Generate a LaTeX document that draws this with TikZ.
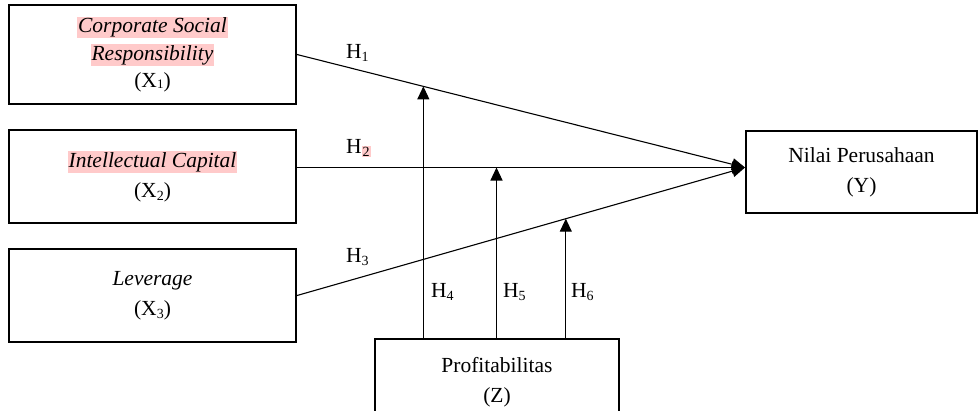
\documentclass[tikz,border=0pt]{standalone}
\usepackage{fontspec}
\setmainfont{Liberation Serif}
\usepackage{xcolor}
\usetikzlibrary{arrows.meta,calc}
\definecolor{hl}{RGB}{255,202,202}
\newcommand{\hlbox}[1]{{\setlength{\fboxsep}{1pt}\colorbox{hl}{#1}}}
\newcommand{\lowsub}[1]{\raisebox{-0.35ex}{\fontsize{14}{14}\selectfont #1}}
\tikzset{
  varbox/.style={draw,line width=2pt,align=center,inner sep=0pt,
    font=\fontsize{21.5}{30}\selectfont},
  hyp/.style={anchor=base west,inner sep=0pt,font=\fontsize{21.5}{26}\selectfont},
  link/.style={line width=1.1pt},
  arr/.style={link,-{Triangle[length=13pt,width=12pt]}}
}

\begin{document}
\begin{tikzpicture}[x=1pt,y=-1pt]
  \useasboundingbox (0,0) rectangle (979,410);
  \node[varbox,minimum width=287pt,minimum height=99pt,
    font=\fontsize{21.5}{27.5}\selectfont] (x1) at (152.5,54.5)
    {\hlbox{\itshape Corporate Social}\\\hlbox{\itshape Responsibility}\\(X\raisebox{-0.1ex}{\fontsize{13}{13}\selectfont 1})};
  \node[varbox,minimum width=287pt,minimum height=93pt] (x2) at (152.5,176.5)
    {\hlbox{\itshape Intellectual Capital}\\(X\lowsub{2})};
  \node[varbox,minimum width=287pt,minimum height=93pt] (x3) at (152.5,295.5)
    {\textit{Leverage}\\(X\lowsub{3})};
  \node[varbox,minimum width=231pt,minimum height=82pt] (y) at (861.5,172)
    {Nilai Perusahaan\\(Y)};
  \node[varbox,minimum width=244pt,minimum height=86pt] (z) at (497,382)
    {Profitabilitas\\(Z)};

  \coordinate (tip) at ($(y.west)+(0,-4.5)$);
  \draw[arr] (x1.east) -- (tip);
  \draw[arr] (x2.east |- tip) -- (tip);
  \draw[arr] (x3.east) -- (tip);

  \coordinate (m1) at ($(x1.east)!0.282!(tip)$);
  \coordinate (m2) at (496.5,167.5);
  \coordinate (m3) at ($(x3.east)!0.6!(tip)$);
  \draw[arr] (z.north -| m1) -- (m1);
  \draw[arr] (z.north -| m2) -- (m2);
  \draw[arr] (z.north -| m3) -- (m3);

  \node[hyp] (h1) at (346,58) {H\lowsub{1}};
  \node[hyp] (h2) at (346,153) {H\lowsub{\hlbox{2}}};
  \node[hyp] (h3) at (346,262) {H\lowsub{3}};
  \node[hyp] (h4) at (431,297) {H\lowsub{4}};
  \node[hyp] (h5) at (503,297) {H\lowsub{5}};
  \node[hyp] (h6) at (571,297) {H\lowsub{6}};
\end{tikzpicture}
\end{document}
